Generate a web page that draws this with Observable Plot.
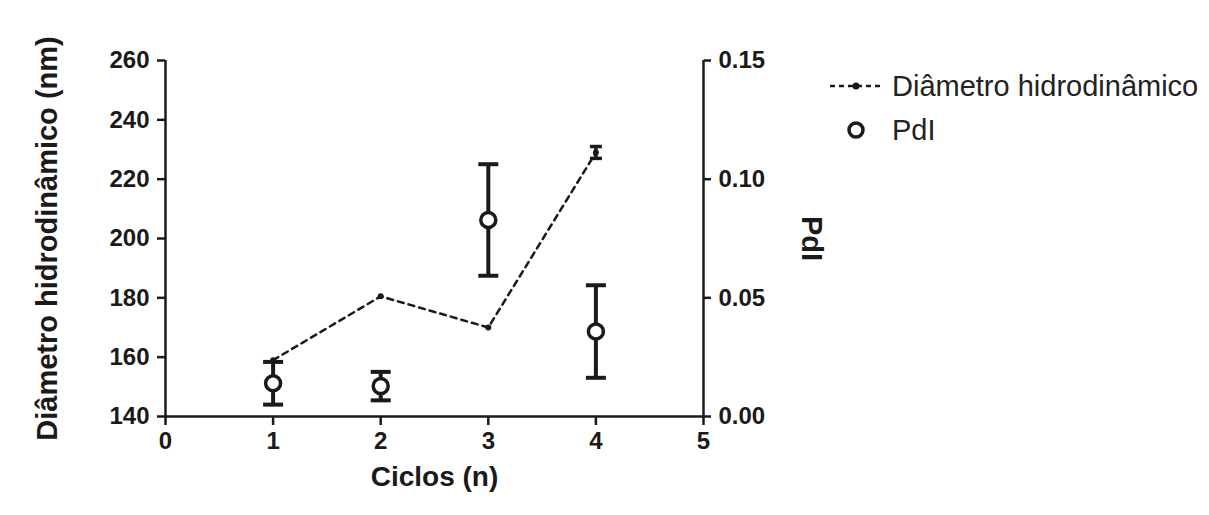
<!DOCTYPE html>
<html>
<head>
<meta charset="utf-8">
<script src="https://cdn.jsdelivr.net/npm/d3@7"></script>
<script src="https://cdn.jsdelivr.net/npm/@observablehq/plot@0.6"></script>
<style>
  html, body { margin: 0; padding: 0; background: #fff; }
  #wrap { position: relative; width: 1209px; height: 515px; font-family: "Liberation Sans", Arial, sans-serif; }
  #legend { position: absolute; left: 828px; top: 64px; font-size: 29px; color: #222; }
  #legend .row { display: flex; align-items: center; height: 44px; }
  #legend svg { width: 56px; height: 30px; margin-right: 8px; }
</style>
</head>
<body>
<div id="wrap"><div id="legend"></div></div>
<script>
// ---- data ----
const cycles = [1, 2, 3, 4];
const diameter = [159, 180.5, 170, 229];       // nm
const diameterErr = [0, 0, 0, 2];              // nm
const pdi = [0.014, 0.0128, 0.0828, 0.0358];
const pdiErr = [0.009, 0.006, 0.0235, 0.0195];
const xTicks = [0, 1, 2, 3, 4, 5];
const yTicksLeft = [140, 160, 180, 200, 220, 240, 260];
const yTicksRight = [0, 0.05, 0.10, 0.15];
const xLabel = "Ciclos (n)";
const yLabelLeft = "Diâmetro hidrodinâmico (nm)";
const yLabelRight = "PdI";
const seriesNames = ["Diâmetro hidrodinâmico", "PdI"];

// map right axis (PdI) onto the left (diameter) scale
const leftDomain = [140, 260], rightDomain = [0, 0.15];
const toLeft = d3.scaleLinear(rightDomain, leftDomain);

const diam = cycles.map((c, i) => ({x: c, y: diameter[i], err: diameterErr[i], lo: diameter[i] - diameterErr[i], hi: diameter[i] + diameterErr[i]}));
const diamErr = diam.filter(d => d.err > 0);
const pd = cycles.map((c, i) => ({x: c, y: toLeft(pdi[i]), lo: toLeft(pdi[i] - pdiErr[i]), hi: toLeft(pdi[i] + pdiErr[i])}));

const capSymbol = { draw(ctx, size) { const w = Math.sqrt(size / Math.PI); ctx.moveTo(-w, 0); ctx.lineTo(w, 0); } };

const font = "Liberation Sans, Arial, sans-serif";
const ink = "#1a1a1a";

const chart = Plot.plot({
  width: 1209,
  height: 515,
  marginLeft: 165,
  marginRight: 506,
  marginTop: 60,
  marginBottom: 99,
  style: { fontFamily: font, color: ink, background: "transparent", overflow: "visible" },
  x: { domain: [0, 5] },
  y: { domain: leftDomain },
  marks: [
    // axis lines
    Plot.ruleX([0, 5], { stroke: ink, strokeWidth: 2.5 }),
    Plot.ruleY([140], { stroke: ink, strokeWidth: 2.5 }),
    Plot.axisX({ ticks: xTicks, tickSize: 9, tickPadding: 6, strokeWidth: 2.5, fontSize: 24, fontWeight: "bold", label: null, tickFormat: d3.format("d") }),
    Plot.axisY({ anchor: "left", ticks: yTicksLeft, tickSize: 8, tickPadding: 8, strokeWidth: 2.5, fontSize: 24, fontWeight: "bold", label: null }),
    Plot.axisY({ anchor: "right", ticks: yTicksRight.map(toLeft), tickSize: 7, tickPadding: 8, strokeWidth: 2.5, fontSize: 24, fontWeight: "bold", label: null,
                 tickFormat: d => toLeft.invert(d).toFixed(2) }),
    // axis titles
    Plot.text([xLabel], { frameAnchor: "bottom", dy: 69, textAnchor: "middle", fontSize: 28, fontWeight: "bold", fill: ink }),
    Plot.text([yLabelLeft], { frameAnchor: "left", dx: -118, textAnchor: "middle", rotate: -90, fontSize: 29, fontWeight: "bold", fill: ink }),
    Plot.text([yLabelRight], { frameAnchor: "right", dx: 108, textAnchor: "middle", rotate: 90, fontSize: 29, fontWeight: "bold", fill: ink }),
    // diameter series
    Plot.line(diam, { x: "x", y: "y", stroke: ink, strokeWidth: 2.5, strokeDasharray: "6,5" }),
    Plot.ruleX(diamErr, { x: "x", y1: "lo", y2: "hi", stroke: ink, strokeWidth: 3.5 }),
    Plot.dot(diamErr, { x: "x", y: "lo", symbol: capSymbol, r: 6, stroke: ink, strokeWidth: 3.5 }),
    Plot.dot(diamErr, { x: "x", y: "hi", symbol: capSymbol, r: 6, stroke: ink, strokeWidth: 3.5 }),
    Plot.dot(diam, { x: "x", y: "y", r: 3, fill: ink, stroke: "none" }),
    // PdI series
    Plot.ruleX(pd, { x: "x", y1: "lo", y2: "hi", stroke: ink, strokeWidth: 4 }),
    Plot.dot(pd, { x: "x", y: "lo", symbol: capSymbol, r: 10, stroke: ink, strokeWidth: 4 }),
    Plot.dot(pd, { x: "x", y: "hi", symbol: capSymbol, r: 10, stroke: ink, strokeWidth: 4 }),
    Plot.dot(pd, { x: "x", y: "y", r: 7.5, fill: "white", stroke: ink, strokeWidth: 3.5 })
  ]
});
document.getElementById("wrap").prepend(chart);

// legend
const legend = document.getElementById("legend");
legend.innerHTML = `
  <div class="row"><svg viewBox="0 0 56 30"><line x1="2" y1="15" x2="54" y2="15" stroke="${ink}" stroke-width="2.5" stroke-dasharray="5,4"/><circle cx="28" cy="15" r="3.5" fill="${ink}"/></svg><span>${seriesNames[0]}</span></div>
  <div class="row"><svg viewBox="0 0 56 30"><circle cx="28" cy="15" r="7" fill="white" stroke="${ink}" stroke-width="3.5"/></svg><span>${seriesNames[1]}</span></div>`;
</script>
</body>
</html>
